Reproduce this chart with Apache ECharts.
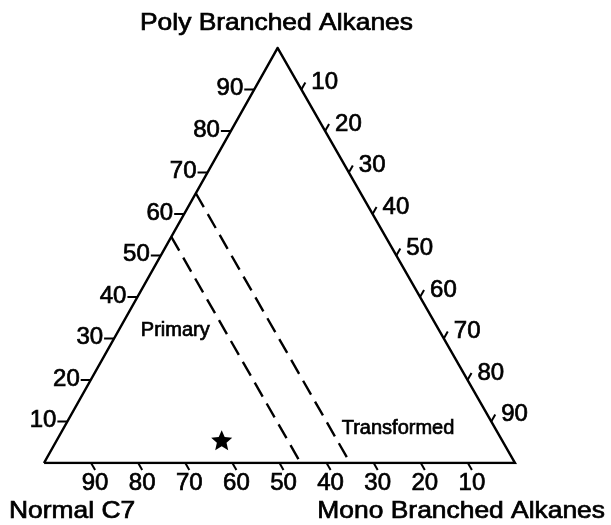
<!DOCTYPE html>
<html><head><meta charset="utf-8">
<script src="https://cdn.jsdelivr.net/npm/echarts@6/dist/echarts.min.js"></script>
<style>html,body{margin:0;padding:0;background:#fff}#c{width:611px;height:525px}</style>
</head><body><div id="c"></div>
<script>
// Ternary components: [Normal C7, Mono Branched, Poly Branched] in %
const vertexLabels = ['Normal C7', 'Mono Branched Alkanes', 'Poly Branched Alkanes'];
const normalTicks = [90, 80, 70, 60, 50, 40, 30, 20, 10];
const polyTicks = [10, 20, 30, 40, 50, 60, 70, 80, 90];
const monoTicks = [10, 20, 30, 40, 50, 60, 70, 80, 90];
const primaryBoundary = [[45.5, 0, 54.5], [45.5, 54.5, 0]];
const transformedBoundary = [[35, 0, 65], [35, 65, 0]];
const samplePoint = [[59.5, 35, 5.5]];
const regionNames = ['Primary', 'Transformed'];
const regionAt = [[56, 12, 32], [20.7, 71.1, 8.2]];

const TX = 0.496; // horizontal position of the apex within the base
function toXY(t) { const s = t[0] + t[1] + t[2]; return [(t[1] + t[2] * TX) / s, t[2] / s]; }

const FONT = 'Liberation Sans, Arial, Helvetica, sans-serif';
const TXT = { fontFamily: FONT, fill: '#000', stroke: '#000', lineWidth: 0.7 };
const outline = [[100, 0, 0], [0, 100, 0], [0, 0, 100], [100, 0, 0]].map(toXY);

const tickItems = [];
polyTicks.forEach(v => tickItems.push({ xy: toXY([100 - v, 0, v]), side: 'left', text: String(v) }));
monoTicks.forEach(v => tickItems.push({ xy: toXY([0, v, 100 - v]), side: 'right', text: String(v) }));
normalTicks.forEach(v => tickItems.push({ xy: toXY([v, 100 - v, 0]), side: 'bottom', text: String(v) }));

function starPath(R, r) {
  let d = '';
  for (let i = 0; i < 10; i++) {
    const a = -Math.PI / 2 + i * Math.PI / 5;
    const rad = i % 2 === 0 ? R : r;
    d += (i === 0 ? 'M' : 'L') + (rad * Math.cos(a)).toFixed(3) + ' ' + (rad * Math.sin(a)).toFixed(3) + ' ';
  }
  return 'path://' + d + 'Z';
}

const chart = echarts.init(document.getElementById('c'), null, { renderer: 'canvas' });
chart.setOption({
  animation: false,
  backgroundColor: '#fff',
  grid: { left: 44, right: 96, top: 48, bottom: 62, containLabel: false },
  xAxis: { type: 'value', min: 0, max: 1, show: false },
  yAxis: { type: 'value', min: 0, max: 1, show: false },
  graphic: [
    { type: 'text', x: 140, y: 23, scaleX: 1.1, style: Object.assign({ text: vertexLabels[2], fontSize: 24, align: 'left', verticalAlign: 'middle' }, TXT) },
    { type: 'text', x: 9, y: 511, scaleX: 1.1, style: Object.assign({ text: vertexLabels[0], fontSize: 24, align: 'left', verticalAlign: 'middle' }, TXT) },
    { type: 'text', x: 605, y: 511, scaleX: 1.1, style: Object.assign({ text: vertexLabels[1], fontSize: 24, align: 'right', verticalAlign: 'middle' }, TXT) }
  ],
  series: [
    { type: 'line', data: outline, symbol: 'none', lineStyle: { color: '#000', width: 2.5, join: 'miter' }, z: 3 },
    { type: 'line', data: primaryBoundary.map(toXY), symbol: 'none', lineStyle: { color: '#000', width: 2.4, type: [16, 8] } },
    { type: 'line', data: transformedBoundary.map(toXY), symbol: 'none', lineStyle: { color: '#000', width: 2.4, type: [16, 8] } },
    {
      type: 'custom', data: tickItems.map(t => t.xy), encode: { x: 0, y: 1 },
      renderItem: function (params, api) {
        const it = tickItems[params.dataIndex];
        const p = api.coord([api.value(0), api.value(1)]);
        let e, tx, ty, align;
        if (it.side === 'left') { e = [p[0] - 10, p[1]]; tx = p[0] - 11; ty = p[1] - 1; align = 'right'; }
        else if (it.side === 'right') { e = [p[0] + 4, p[1] - 7]; tx = p[0] + 10; ty = p[1] - 7; align = 'left'; }
        else { e = [p[0] + 4, p[1] + 7]; tx = p[0] + 4; ty = p[1] + 20; align = 'center'; }
        return {
          type: 'group', children: [
            { type: 'line', shape: { x1: p[0], y1: p[1], x2: e[0], y2: e[1] }, style: { stroke: '#000', lineWidth: 2 } },
            { type: 'text', x: tx, y: ty, style: Object.assign({ text: it.text, fontSize: 24, align: align, verticalAlign: 'middle' }, TXT) }
          ]
        };
      }
    },
    {
      type: 'custom', data: regionAt.map(toXY), encode: { x: 0, y: 1 },
      renderItem: function (params, api) {
        const p = api.coord([api.value(0), api.value(1)]);
        return { type: 'text', x: p[0], y: p[1], style: Object.assign({ text: regionNames[params.dataIndex], fontSize: 20, align: 'center', verticalAlign: 'middle' }, TXT) };
      }
    },
    { type: 'scatter', data: samplePoint.map(toXY), symbol: starPath(10, 4.6), symbolSize: [21, 20], itemStyle: { color: '#000', opacity: 1 }, z: 4 }
  ]
});
</script></body></html>
